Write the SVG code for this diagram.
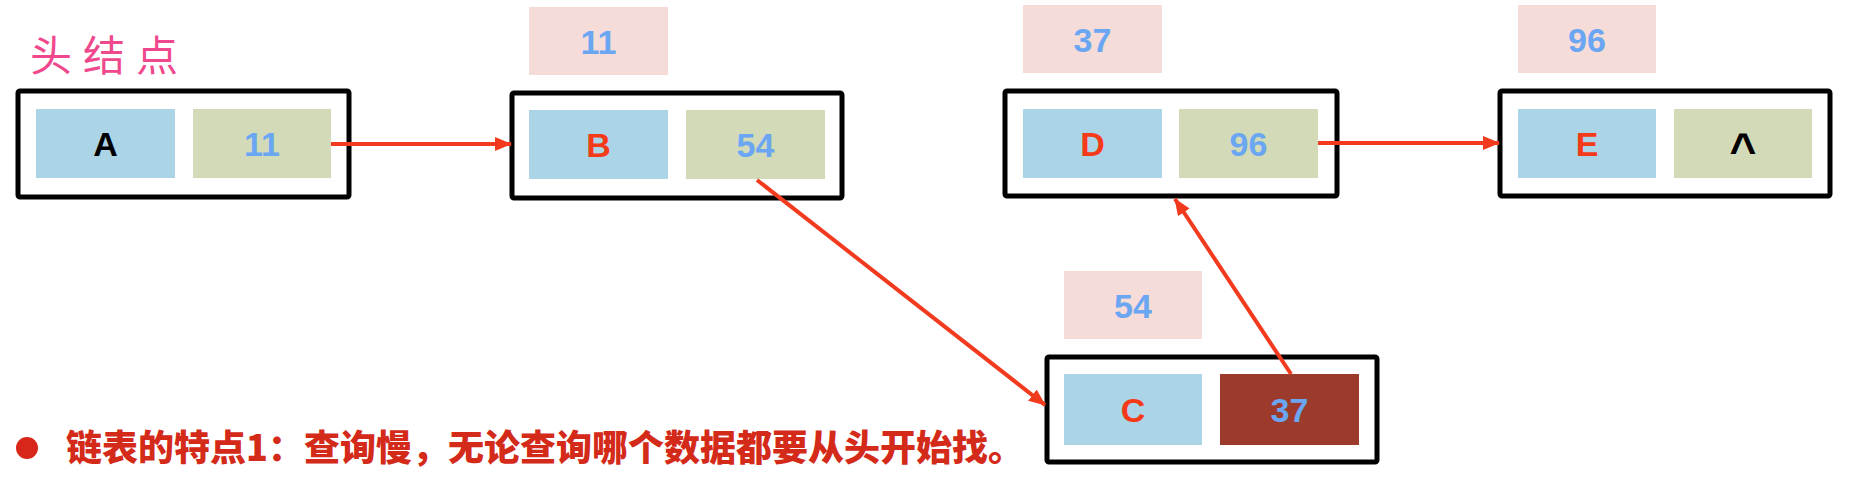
<svg xmlns="http://www.w3.org/2000/svg" width="1876" height="496" viewBox="0 0 1876 496">
  <defs>
    <style>
      .frame { fill: #ffffff; stroke: #000000; stroke-width: 5; }
      .data { fill: #abd4e6; }
      .next { fill: #d3dab8; }
      .addr { fill: #f6dcd8; }
      .brown { fill: #9c3b2b; }
      .t { font-family: "Liberation Sans", Arial, sans-serif; font-weight: bold; font-size: 34px; text-anchor: middle; }
      .blue { fill: #6aa6f2; }
      .red { fill: #f53a1a; }
      .black { fill: #000000; }
      .link { stroke: #f23a1e; stroke-width: 4; fill: none; marker-end: url(#arrow); }
    </style>
    <marker id="arrow" markerUnits="userSpaceOnUse" markerWidth="18" markerHeight="14" refX="16" refY="7" orient="auto">
      <path d="M0,0 L17,7 L0,14 z" fill="#f23a1e"/>
    </marker>
  </defs>
  <rect width="1876" height="496" fill="#ffffff"/>

  <text x="30" y="71" font-family="'Noto Sans CJK SC', sans-serif" font-size="42" letter-spacing="11" fill="#f0488c">头结点</text>

  <g id="node-A">
    <rect class="frame" x="18" y="91" width="331" height="106" rx="2"/>
    <rect class="data" x="36" y="109" width="139" height="69"/>
    <rect class="next" x="193" y="109" width="138" height="69"/>
    <text class="t black" x="105.5" y="156">A</text>
    <text class="t blue" x="262" y="156">11</text>
  </g>

  <g id="addr-B">
    <rect class="addr" x="529" y="7" width="139" height="68"/>
    <text class="t blue" x="598.5" y="54">11</text>
  </g>
  <g id="node-B">
    <rect class="frame" x="512" y="93" width="330" height="105" rx="2"/>
    <rect class="data" x="529" y="110" width="139" height="69"/>
    <rect class="next" x="686" y="110" width="139" height="69"/>
    <text class="t red" x="598.5" y="157">B</text>
    <text class="t blue" x="755.5" y="157">54</text>
  </g>

  <g id="addr-D">
    <rect class="addr" x="1023" y="5" width="139" height="68"/>
    <text class="t blue" x="1092.5" y="52">37</text>
  </g>
  <g id="node-D">
    <rect class="frame" x="1005" y="91" width="332" height="105" rx="2"/>
    <rect class="data" x="1023" y="109" width="139" height="69"/>
    <rect class="next" x="1179" y="109" width="139" height="69"/>
    <text class="t red" x="1092.5" y="156">D</text>
    <text class="t blue" x="1248.5" y="156">96</text>
  </g>

  <g id="addr-E">
    <rect class="addr" x="1518" y="5" width="138" height="68"/>
    <text class="t blue" x="1587" y="52">96</text>
  </g>
  <g id="node-E">
    <rect class="frame" x="1500" y="91" width="330" height="105" rx="2"/>
    <rect class="data" x="1518" y="109" width="138" height="69"/>
    <rect class="next" x="1674" y="109" width="138" height="69"/>
    <text class="t red" x="1587" y="156">E</text>
    <text class="t black" x="1743" y="166" style="font-size:46px">^</text>
  </g>

  <g id="addr-C">
    <rect class="addr" x="1064" y="271" width="138" height="68"/>
    <text class="t blue" x="1133" y="318">54</text>
  </g>
  <g id="node-C">
    <rect class="frame" x="1047" y="357" width="330" height="105" rx="2"/>
    <rect class="data" x="1064" y="374" width="138" height="71"/>
    <rect class="brown" x="1220" y="374" width="139" height="71"/>
    <text class="t red" x="1133" y="422">C</text>
    <text class="t blue" x="1289.5" y="422">37</text>
  </g>

  <g id="connectors">
    <line class="link" x1="331" y1="144" x2="511" y2="144"/>
    <line class="link" x1="757" y1="180" x2="1045" y2="405"/>
    <line class="link" x1="1291" y1="374" x2="1175" y2="199"/>
    <line class="link" x1="1318" y1="143" x2="1499" y2="143"/>
  </g>

  <circle cx="27" cy="448" r="11" fill="#d9261a"/>
  <text x="66" y="461" font-family="'Noto Sans CJK SC', sans-serif" font-weight="900" font-size="36" fill="#d42a1a">链表的特点1：查询慢，无论查询哪个数据都要从头开始找。</text>
</svg>
